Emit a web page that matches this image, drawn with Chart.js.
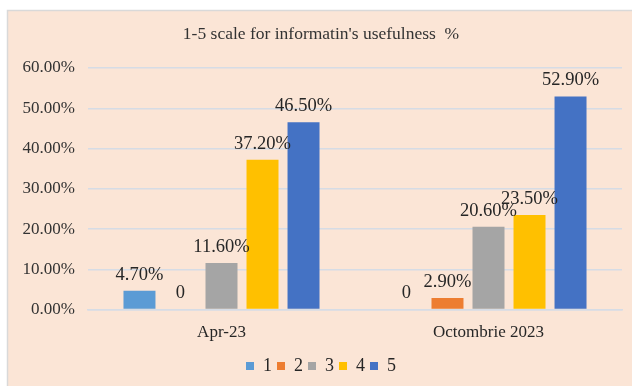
<!DOCTYPE html>
<html>
<head>
<meta charset="utf-8">
<script src="https://cdn.jsdelivr.net/npm/chart.js@4.4.0/dist/chart.umd.min.js"></script>
<style>
    html, body {
        margin: 0;
        padding: 0;
        background: #ffffff;
    }
    #wrap {
        width: 632px;
        height: 386px;
    }
</style>
</head>
<body>
<div id="wrap"><canvas id="chart"></canvas></div>
<script>
// survey periods and the share of each 1-5 rating (percent)
const periods = ["Apr-23", "Octombrie 2023"];
const ratings = ["1", "2", "3", "4", "5"];
const rating1 = [4.7, 0];
const rating2 = [0, 2.9];
const rating3 = [11.6, 20.6];
const rating4 = [37.2, 23.5];
const rating5 = [46.5, 52.9];
const yTicks = [0, 10, 20, 30, 40, 50, 60];

const colors = ["#5B9BD5", "#ED7D31", "#A5A5A5", "#FFC000", "#4472C4"];
const serif = "'Liberation Serif', 'Times New Roman', serif";

// peach panel with a thin grey frame behind everything
const panelBackground = {
    id: "panelBackground",
    beforeDraw(chart) {
        const ctx = chart.ctx;
        ctx.save();
        ctx.fillStyle = "#ffffff";
        ctx.fillRect(0, 0, chart.width, chart.height);
        ctx.fillStyle = "#FBE5D6";
        ctx.fillRect(8, 11, chart.width - 8, chart.height - 11);
        ctx.strokeStyle = "#D9D9D9";
        ctx.lineWidth = 1.5;
        ctx.beginPath();
        ctx.moveTo(7.5, chart.height);
        ctx.lineTo(7.5, 10.5);
        ctx.lineTo(chart.width, 10.5);
        ctx.stroke();
        ctx.restore();
    },
};

// value label above each bar, zero shown as plain "0"
const barValues = {
    id: "barValues",
    afterDatasetsDraw(chart) {
        const ctx = chart.ctx;
        ctx.save();
        ctx.font = "18.5px " + serif;
        ctx.fillStyle = "#262626";
        ctx.textAlign = "center";
        ctx.textBaseline = "middle";
        chart.data.datasets.forEach((ds, i) => {
            chart.getDatasetMeta(i).data.forEach((bar, j) => {
                const v = ds.data[j];
                const text = v === 0 ? "0" : v.toFixed(2) + "%";
                ctx.fillText(text, bar.x, bar.y - 16);
            });
        });
        ctx.restore();
    },
};

const series = [rating1, rating2, rating3, rating4, rating5];

new Chart(document.getElementById("chart"), {
    type: "bar",
    data: {
        labels: periods,
        datasets: series.map((values, i) => ({
            label: ratings[i],
            data: values,
            backgroundColor: colors[i],
            borderWidth: 0,
            categoryPercentage: 0.768,
            barPercentage: 0.78,
        })),
    },
    options: {
        responsive: true,
        maintainAspectRatio: false,
        animation: false,
        layout: {
            padding: { left: 20, right: 10, top: 10, bottom: 1 },
        },
        plugins: {
            title: {
                display: true,
                text: "1-5 scale for informatin's usefulness  %",
                color: "#333333",
                font: { family: serif, size: 17.5, weight: "normal" },
                padding: { top: 14, bottom: 23 },
            },
            legend: {
                position: "bottom",
                labels: {
                    boxWidth: 8,
                    boxHeight: 8,
                    padding: 5,
                    color: "#262626",
                    font: { family: serif, size: 18 },
                },
            },
            tooltip: { enabled: false },
        },
        scales: {
            x: {
                grid: { display: false },
                border: { color: "#D6DCE5", width: 1.5 },
                afterFit(scale) {
                    scale.height += 4;
                },
                ticks: {
                    color: "#262626",
                    padding: 5,
                    font: { family: serif, size: 17 },
                },
            },
            y: {
                min: 0,
                max: 60,
                afterFit(scale) {
                    scale.width = 68;
                },
                afterBuildTicks(scale) {
                    scale.ticks = yTicks.map((v) => ({ value: v }));
                },
                border: { display: false },
                grid: { color: "#D6DCE5", lineWidth: 1.5, drawTicks: false },
                ticks: {
                    color: "#333333",
                    padding: 13,
                    font: { family: serif, size: 17 },
                    callback: (v) => v.toFixed(2) + "%",
                },
            },
        },
    },
    plugins: [panelBackground, barValues],
});
</script>
</body>
</html>
